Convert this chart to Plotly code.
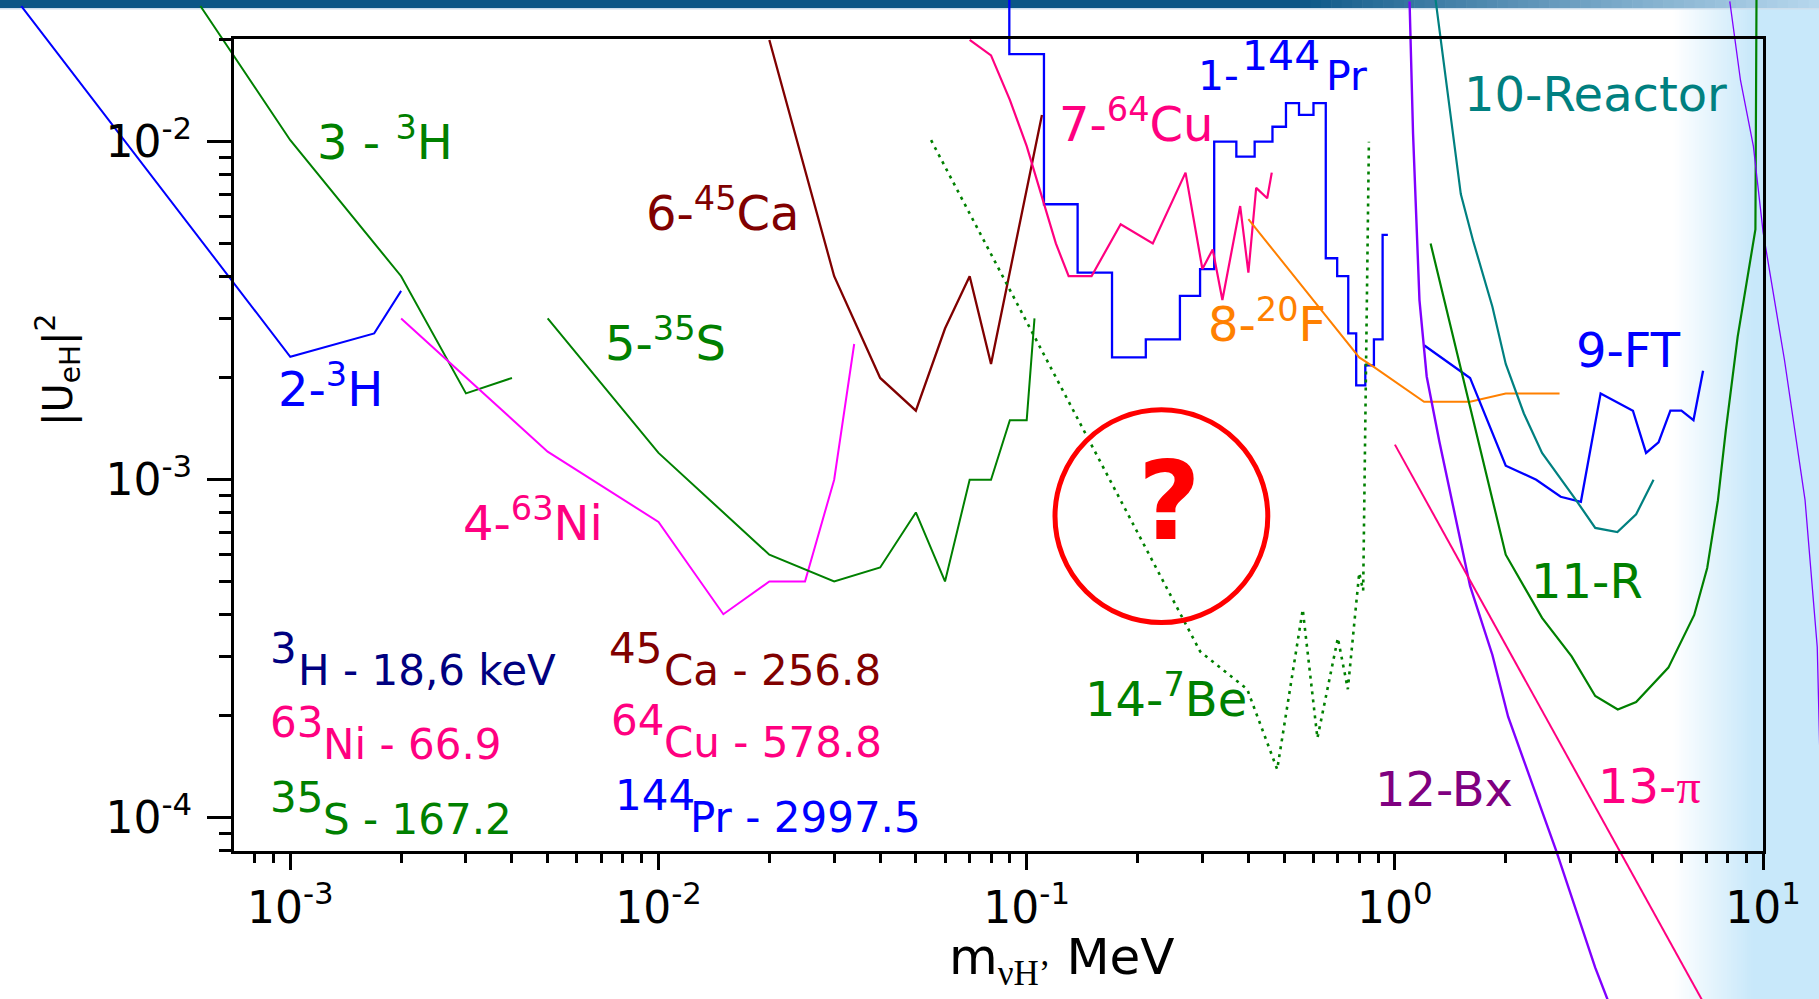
import plotly.graph_objects as go

# ---------------- data (m in MeV, |U_eH|^2) ----------------
# 1 - 144Pr (stepped limit; each y is the level of the step that ends at x)
pr144_m = [0.0897, 0.1114, 0.1375, 0.1705, 0.2106, 0.2607, 0.2957, 0.323, 0.371, 0.416, 0.465,
           0.506, 0.549, 0.601, 0.649, 0.697, 0.747, 0.785, 0.831, 0.877, 0.926, 0.957]
pr144_u = [3.0e-2, 1.815e-2, 6.53e-3, 4.1e-3, 2.3e-3, 2.6e-3, 3.5e-3, 4.2e-3, 1.0e-2, 9.03e-3, 1.0e-2,
           1.107e-2, 1.3e-2, 1.2e-2, 1.3e-2, 4.52e-3, 4.0e-3, 2.71e-3, 1.9e-3, 2.18e-3, 2.6e-3, 5.3e-3]
# 2 - 3H
h3a_m = [1.86e-4, 1.0e-3, 1.69e-3, 2.0e-3]
h3a_u = [2.52e-2, 2.31e-3, 2.71e-3, 3.62e-3]
# 3 - 3H
h3b_m = [5.7e-4, 1.0e-3, 2.0e-3, 3.0e-3, 4.0e-3]
h3b_u = [2.52e-2, 1.01e-2, 4.0e-3, 1.8e-3, 2.0e-3]
# 4 - 63Ni
ni63_m = [2.0e-3, 5.0e-3, 1.0e-2, 1.5e-2, 2.0e-2, 2.5e-2, 3.0e-2, 3.4e-2]
ni63_u = [3.0e-3, 1.21e-3, 7.5e-4, 4.0e-4, 5.0e-4, 5.0e-4, 1.0e-3, 2.52e-3]
# 5 - 35S
s35_m = [5.0e-3, 1.0e-2, 2.0e-2, 3.0e-2, 4.0e-2, 5.0e-2, 6.0e-2, 7.0e-2, 8.0e-2, 9.0e-2, 0.1, 0.105]
s35_u = [3.0e-3, 1.2e-3, 6.0e-4, 5.0e-4, 5.5e-4, 8.0e-4, 5.0e-4, 1.0e-3, 1.0e-3, 1.5e-3, 1.5e-3, 3.0e-3]
# 6 - 45Ca
ca45_m = [0.02, 0.03, 0.04, 0.05, 0.06, 0.07, 0.08, 0.11]
ca45_u = [2.0e-2, 4.0e-3, 2.0e-3, 1.6e-3, 2.8e-3, 4.0e-3, 2.2e-3, 1.2e-2]
# 7 - 64Cu
cu64_m = [0.07, 0.08, 0.09, 0.10, 0.12, 0.13, 0.15, 0.18, 0.22, 0.27, 0.30, 0.32, 0.34, 0.38,
          0.40, 0.42, 0.45, 0.463]
cu64_u = [2.0e-2, 1.8e-2, 1.33e-2, 9.7e-3, 5.0e-3, 4.0e-3, 4.0e-3, 5.7e-3, 5.0e-3, 8.1e-3, 4.2e-3,
          4.8e-3, 3.4e-3, 6.45e-3, 4.1e-3, 7.3e-3, 6.8e-3, 8.1e-3]
# 8 - 20F
f20_m = [0.40, 0.80, 0.88, 1.2, 1.6, 2.0, 2.8]
f20_u = [5.9e-3, 2.3e-3, 2.15e-3, 1.7e-3, 1.7e-3, 1.8e-3, 1.8e-3]
# 9 - FT
ft_m = [1.2, 1.6, 2.0, 2.42, 2.82, 3.2, 3.62, 4.43, 4.81, 5.2, 5.6, 6.0, 6.47, 6.87]
ft_u = [2.5e-3, 2.0e-3, 1.1e-3, 1.0e-3, 8.9e-4, 8.6e-4, 1.8e-3, 1.6e-3, 1.2e-3, 1.29e-3, 1.6e-3,
        1.6e-3, 1.5e-3, 2.1e-3]
# 10 - Reactor
reac_m = [1.28, 1.336, 1.386, 1.44, 1.51, 1.63, 1.84, 2.0, 2.24, 2.51, 3.06, 3.5, 4.02, 4.52, 5.04]
reac_u = [2.8e-2, 1.95e-2, 1.39e-2, 1.01e-2, 7.0e-3, 5.1e-3, 3.25e-3, 2.2e-3, 1.57e-3, 1.2e-3,
          8.9e-4, 7.2e-4, 7.0e-4, 7.9e-4, 1.0e-3]
# 11 - R
r_m = [1.25, 2.0, 2.51, 3.02, 3.5, 4.03, 4.52, 5.53, 6.5, 7.05, 7.54, 7.92, 8.53, 9.53, 9.6]
r_u = [5.0e-3, 6.0e-4, 3.9e-4, 3.0e-4, 2.29e-4, 2.09e-4, 2.2e-4, 2.78e-4, 3.98e-4, 5.48e-4,
       8.7e-4, 1.4e-3, 2.65e-3, 5.5e-3, 3.0e-2]
# 12 - Bx (low-mass side and high-mass side)
bx_m = [1.096, 1.12, 1.166, 1.22, 1.32, 1.53, 1.6, 1.84, 2.03, 2.74, 3.5, 3.78]
bx_u = [2.6e-2, 1.06e-2, 3.4e-3, 2.02e-3, 1.3e-3, 6.0e-4, 4.85e-4, 3.03e-4, 1.99e-4, 8.0e-5, 3.6e-5, 2.9e-5]
bx2_m = [8.12, 8.68, 9.41, 10.0, 11.43, 13.0, 14.03, 14.4]
bx2_u = [2.6e-2, 1.52e-2, 9.7e-3, 5.4e-3, 2.26e-3, 8.7e-4, 3.2e-4, 1.0e-4]
# 13 - pi
pi_m = [1.0, 7.5]
pi_u = [1.27e-3, 2.4e-5]
# 14 - 7Be (expected sensitivity, dotted)
be7_m = [0.055, 0.296, 0.397, 0.479, 0.562, 0.616, 0.70, 0.745, 0.80, 0.82, 0.85]
be7_u = [1.01e-2, 3.1e-4, 2.4e-4, 1.39e-4, 4.13e-4, 1.72e-4, 3.4e-4, 2.4e-4, 5.3e-4, 4.7e-4, 1.0e-2]

x_tick_vals = [1e-3, 1e-2, 1e-1, 1e0, 1e1]
x_tick_text = ["10<sup>-3</sup>", "10<sup>-2</sup>", "10<sup>-1</sup>", "10<sup>0</sup>", "10<sup>1</sup>"]
y_tick_vals = [1e-4, 1e-3, 1e-2]
y_tick_text = ["10<sup>-4</sup>", "10<sup>-3</sup>", "10<sup>-2</sup>"]

# ---------------- geometry ----------------
W, H = 1819, 999
FONT = "DejaVu Sans"
# full-figure data axes (lines are drawn unclipped across the whole picture)
XR = [-3.7884, 1.1518]
YR = [-4.5364, -1.5808]
# framed axes
FXR = [-3.153, 1.0002]
FYR = [-4.098, -1.697]
dom_x = [(FXR[0] - XR[0]) / (XR[1] - XR[0]), (FXR[1] - XR[0]) / (XR[1] - XR[0])]
dom_y = [(FYR[0] - YR[0]) / (YR[1] - YR[0]), (FYR[1] - YR[0]) / (YR[1] - YR[0])]

BLUE, GREEN, MAROON = "#0000ff", "#008000", "#800000"
PINK, MAGENTA, ORANGE = "#ff0080", "#ff00ff", "#ff8000"
TEAL, VIOLET, PURPLE, NAVY = "#008080", "#8000ff", "#800080", "#000080"

fig = go.Figure()

curves = [
    (pr144_m, pr144_u, BLUE, 2.3, "solid", "vh"),
    (h3a_m, h3a_u, BLUE, 2.0, "solid", "linear"),
    (h3b_m, h3b_u, GREEN, 2.0, "solid", "linear"),
    (ni63_m, ni63_u, MAGENTA, 2.0, "solid", "linear"),
    (s35_m, s35_u, GREEN, 2.0, "solid", "linear"),
    (ca45_m, ca45_u, MAROON, 2.3, "solid", "linear"),
    (cu64_m, cu64_u, PINK, 2.2, "solid", "linear"),
    (f20_m, f20_u, ORANGE, 2.0, "solid", "linear"),
    (ft_m, ft_u, BLUE, 2.3, "solid", "linear"),
    (reac_m, reac_u, TEAL, 2.2, "solid", "linear"),
    (r_m, r_u, GREEN, 2.2, "solid", "linear"),
    (bx_m, bx_u, VIOLET, 2.4, "solid", "linear"),
    (bx2_m, bx2_u, VIOLET, 1.3, "solid", "linear"),
    (pi_m, pi_u, PINK, 2.0, "solid", "linear"),
    (be7_m, be7_u, GREEN, 2.6, "3px,5px", "linear"),
]
for xs, ys, col, lw, dash, shape in curves:
    fig.add_trace(go.Scatter(x=xs, y=ys, mode="lines", xaxis="x", yaxis="y",
                             line=dict(color=col, width=lw, dash=dash, shape=shape),
                             hoverinfo="skip", showlegend=False))

# invisible trace so the framed subplot exists
fig.add_trace(go.Scatter(x=[1e-2], y=[1e-3], xaxis="x2", yaxis="y2", mode="markers",
                         marker=dict(opacity=0), hoverinfo="skip", showlegend=False))

x_minor = [m * 10.0 ** k for k in range(-4, 1) for m in range(2, 10)
           if 10 ** FXR[0] <= m * 10.0 ** k <= 10 ** FXR[1]]
y_minor = [m * 10.0 ** k for k in range(-5, -1) for m in range(2, 10)
           if 10 ** FYR[0] <= m * 10.0 ** k <= 10 ** FYR[1]]

tickfont = dict(family=FONT, size=44, color="black")
fig.update_layout(
    width=W, height=H, autosize=False,
    margin=dict(l=0, r=0, t=0, b=0, pad=0, autoexpand=False),
    paper_bgcolor="white", plot_bgcolor="rgba(0,0,0,0)",
    showlegend=False,
    xaxis=dict(type="log", range=XR, domain=[0, 1], visible=False, fixedrange=True, automargin=False),
    yaxis=dict(type="log", range=YR, domain=[0, 1], visible=False, fixedrange=True, automargin=False),
    xaxis2=dict(type="log", range=FXR, domain=dom_x, anchor="y2", automargin=False,
                showline=True, linewidth=3, linecolor="black", mirror=True,
                showgrid=False, zeroline=False,
                tickmode="array", tickvals=x_tick_vals, ticktext=x_tick_text,
                ticks="outside", ticklen=16, tickwidth=3, tickcolor="black",
                tickfont=tickfont, ticklabelstandoff=0,
                minor=dict(tickvals=x_minor, ticks="outside", ticklen=9, tickwidth=3,
                           tickcolor="black", showgrid=False)),
    yaxis2=dict(type="log", range=FYR, domain=dom_y, anchor="x2", automargin=False,
                showline=True, linewidth=3, linecolor="black", mirror=True,
                showgrid=False, zeroline=False,
                tickmode="array", tickvals=y_tick_vals, ticktext=y_tick_text,
                ticks="outside", ticklen=24, tickwidth=3, tickcolor="black",
                tickfont=tickfont, ticklabelstandoff=6,
                minor=dict(tickvals=y_minor, ticks="outside", ticklen=12, tickwidth=3,
                           tickcolor="black", showgrid=False)),
)

# ---------------- background decorations ----------------
shapes = []


def lerp(c1, c2, t):
    return "rgb(%d,%d,%d)" % tuple(round(a + (b - a) * t) for a, b in zip(c1, c2))


# light-blue band at the right edge
g0, g1, N = 1673, 1753, 40
for i in range(N):
    xa = g0 + (g1 - g0) * i / N
    xb = min(g0 + (g1 - g0) * (i + 1) / N + 0.6, W)
    shapes.append(dict(type="rect", xref="paper", yref="paper", x0=xa / W, x1=xb / W, y0=0, y1=1,
                       fillcolor=lerp((255, 255, 255), (200, 232, 250), (i + 0.5) / N),
                       line=dict(width=0), layer="below"))
shapes.append(dict(type="rect", xref="paper", yref="paper", x0=g1 / W, x1=1, y0=0, y1=1,
                   fillcolor="rgb(200,232,250)", line=dict(width=0), layer="below"))
# dark title stripe at the top
sh = 8
shapes.append(dict(type="rect", xref="paper", yref="paper", x0=0, x1=1300 / W, y0=1 - sh / H, y1=1,
                   fillcolor="rgb(11,86,134)", line=dict(width=0), layer="below"))
s0, s1, N = 1300, 1819, 50
for i in range(N):
    xa = s0 + (s1 - s0) * i / N
    xb = min(s0 + (s1 - s0) * (i + 1) / N + 0.6, W)
    shapes.append(dict(type="rect", xref="paper", yref="paper", x0=xa / W, x1=xb / W,
                       y0=1 - sh / H, y1=1,
                       fillcolor=lerp((11, 86, 134), (184, 216, 238), ((i + 0.5) / N) ** 0.9),
                       line=dict(width=0), layer="below"))
shapes.append(dict(type="rect", xref="paper", yref="paper", x0=0, x1=1, y0=1 - (sh + 1.5) / H,
                   y1=1 - sh / H, fillcolor="rgb(205,222,236)", line=dict(width=0), layer="below"))
# red circle around the question mark
cx, cy, rr = 1161.4, 516.2, 106.4
shapes.append(dict(type="circle", xref="paper", yref="paper",
                   x0=(cx - rr) / W, x1=(cx + rr) / W, y0=1 - (cy + rr) / H, y1=1 - (cy - rr) / H,
                   line=dict(color="#ff0000", width=5), layer="above"))
fig.update_layout(shapes=shapes)

# ---------------- text ----------------
ann = []


def label(text, left, base, size, color, sub=False, xanchor="left"):
    if sub:
        y, ya = base - 0.928 * size, "top"
    else:
        y, ya = base + 0.236 * size, "bottom"
    ann.append(dict(text=text, x=left / W, y=1 - y / H, xref="paper", yref="paper",
                    xanchor=xanchor, yanchor=ya, showarrow=False, borderpad=0,
                    font=dict(family=FONT, size=size, color=color)))


LS = 48
label("3 - <sup>3</sup>H", 316, 160, LS, GREEN)
label("2-<sup>3</sup>H", 277, 407, LS, BLUE)
label("6-<sup>45</sup>Ca", 645, 231, LS, MAROON)
label("5-<sup>35</sup>S", 604, 361, LS, GREEN)
label("7-<sup>64</sup>Cu", 1058, 141.5, LS, PINK)
label("4-<sup>63</sup>Ni", 462, 540.7, LS, PINK)
label("8-<sup>20</sup>F", 1207, 341.7, LS, ORANGE)
label("9-FT", 1575, 368, LS, BLUE)
label("10-Reactor", 1463, 112, LS, TEAL)
label("11-R", 1530, 598.7, LS, GREEN)
label("12-Bx", 1374, 807, LS, PURPLE)
label("13-<span style='font-family:Liberation Serif'>π</span>", 1597, 804, LS, PINK)
label("14-<sup>7</sup>Be", 1084, 716.6, LS, GREEN)
# 1-144Pr with a full-size raised mass number
label("1-", 1197, 91.7, 41, BLUE)
label("144", 1241, 71.7, 41, BLUE)
label("Pr", 1325, 91.7, 41, BLUE)

# end-point energies
BS = 42
for sup, rest, col, xl, xr, base in [
    ("3", "H - 18,6 keV", NAVY, 269, 297, 686),
    ("63", "Ni - 66.9", PINK, 269, 322, 760),
    ("35", "S - 167.2", GREEN, 269, 322, 834.6),
    ("45", "Ca - 256.8", MAROON, 608, 663, 686),
    ("64", "Cu - 578.8", PINK, 610, 663, 758),
    ("144", "Pr - 2997.5", BLUE, 614, 689, 833),
]:
    label(sup, xl, base - 22, BS, col)
    label(rest, xr, base, BS, col)

# question mark
label("<b>?</b>", 1169, 540, 108, "#ff0000", xanchor="center")

# axis titles
label("m<sub><span style='font-family:Liberation Serif'>νH’</span></sub> MeV", 948, 973, 50, "black", sub=True)
ann.append(dict(text="|U<sub>eH</sub>|<sup>2</sup>", x=58 / W, y=1 - 370 / H, xref="paper", yref="paper",
                xanchor="center", yanchor="middle", textangle=-90, showarrow=False,
                font=dict(family=FONT, size=40, color="black")))

fig.update_layout(annotations=ann)

fig.write_html(
    "out.html", config={"responsive": False},
    post_script="document.body.style.margin='0';document.body.style.overflow='hidden';",
)
